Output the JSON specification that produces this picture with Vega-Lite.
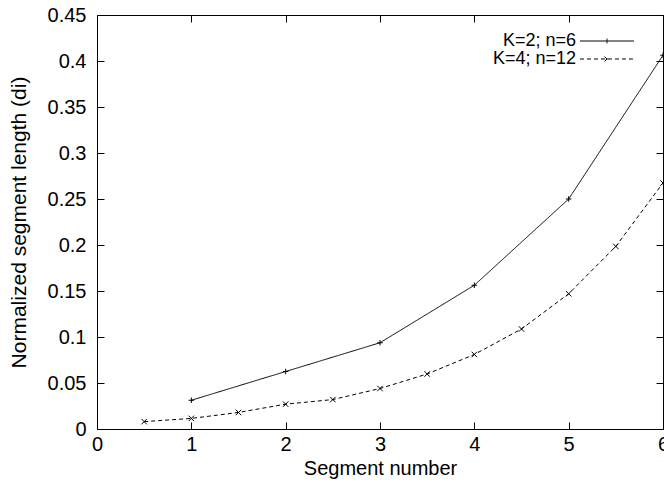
{
  "$schema": "https://vega.github.io/schema/vega-lite/v6.json",
  "autosize": {"type": "none"},
  "width": 566,
  "height": 414,
  "padding": {"left": 97, "top": 15, "right": 1, "bottom": 61},
  "background": "white",
  "config": {
    "view": {"stroke": "black", "strokeWidth": 1},
    "font": "Liberation Sans",
    "axis": {
      "domain": false,
      "grid": false,
      "tickColor": "black",
      "tickSize": -7,
      "tickWidth": 1,
      "labelColor": "black",
      "labelFontSize": 20,
      "labelFont": "Liberation Sans",
      "titleColor": "black",
      "titleFontSize": 20,
      "titleFont": "Liberation Sans",
      "titleFontWeight": "normal"
    }
  },
  "data": {
    "values": [
      {"series": "K=2; n=6", "x": 1, "y": 0.03125},
      {"series": "K=2; n=6", "x": 2, "y": 0.0625},
      {"series": "K=2; n=6", "x": 3, "y": 0.09375},
      {"series": "K=2; n=6", "x": 4, "y": 0.15625},
      {"series": "K=2; n=6", "x": 5, "y": 0.25},
      {"series": "K=2; n=6", "x": 6, "y": 0.40625},
      {"series": "K=4; n=12", "x": 0.5, "y": 0.008},
      {"series": "K=4; n=12", "x": 1, "y": 0.0115},
      {"series": "K=4; n=12", "x": 1.5, "y": 0.018},
      {"series": "K=4; n=12", "x": 2, "y": 0.027},
      {"series": "K=4; n=12", "x": 2.5, "y": 0.032},
      {"series": "K=4; n=12", "x": 3, "y": 0.044},
      {"series": "K=4; n=12", "x": 3.5, "y": 0.0598},
      {"series": "K=4; n=12", "x": 4, "y": 0.081},
      {"series": "K=4; n=12", "x": 4.5, "y": 0.1087},
      {"series": "K=4; n=12", "x": 5, "y": 0.147},
      {"series": "K=4; n=12", "x": 5.5, "y": 0.1985},
      {"series": "K=4; n=12", "x": 6, "y": 0.2674}
    ]
  },
  "layer": [
    {
      "mark": {"type": "line", "color": "black", "strokeWidth": 1},
      "encoding": {
        "x": {
          "field": "x", "type": "quantitative",
          "scale": {"domain": [0, 6], "nice": false, "zero": false},
          "axis": {"orient": "bottom", "values": [0, 1, 2, 3, 4, 5, 6], "format": "d", "title": "Segment number", "labelPadding": 12, "titlePadding": 4, "labelFlush": false}
        },
        "y": {
          "field": "y", "type": "quantitative",
          "scale": {"domain": [0, 0.45], "nice": false},
          "axis": {"orient": "left", "values": [0, 0.05, 0.1, 0.15, 0.2, 0.25, 0.3, 0.35, 0.4, 0.45], "format": ".2~f", "title": "Normalized segment length (di)", "titleFontSize": 21, "labelPadding": 18, "titlePadding": 18}
        },
        "strokeDash": {
          "field": "series", "type": "nominal",
          "scale": {"domain": ["K=2; n=6", "K=4; n=12"], "range": [[1, 0], [4, 3]]},
          "legend": {
            "title": null,
            "orient": "none",
            "legendX": 479,
            "legendY": 17,
            "padding": 0,
            "rowPadding": 0,
            "labelFontSize": 18,
            "labelColor": "black",
            "labelAlign": "right",
            "labelOffset": -40,
            "symbolOffset": 22,
            "symbolSize": 117,
            "symbolStrokeWidth": 1,
            "symbolStrokeColor": "black",
            "encode": {
              "symbols": {
                "update": {
                  "shape": {"signal": "datum.value == 'K=2; n=6' ? 'M-5,0H5M0,-0.45V0.45' : 'M-5,0H5M-0.45,-0.45L0.45,0.45M-0.45,0.45L0.45,-0.45'"}
                }
              }
            }
          }
        }
      }
    },
    {
      "transform": [{"filter": "datum.series == 'K=2; n=6'"}],
      "mark": {"type": "point", "shape": "M-1,0H1M0,-1V1", "filled": false, "color": "black", "strokeWidth": 1, "size": 30, "opacity": 1},
      "encoding": {
        "x": {
          "field": "x", "type": "quantitative",
          "axis": {"orient": "top", "values": [0, 1, 2, 3, 4, 5, 6], "labels": false, "title": null}
        },
        "y": {
          "field": "y", "type": "quantitative",
          "axis": {"orient": "right", "values": [0, 0.05, 0.1, 0.15, 0.2, 0.25, 0.3, 0.35, 0.4, 0.45], "labels": false, "title": null}
        }
      }
    },
    {
      "transform": [{"filter": "datum.series == 'K=4; n=12'"}],
      "mark": {"type": "point", "shape": "M-1,-1L1,1M-1,1L1,-1", "filled": false, "color": "black", "strokeWidth": 1, "size": 30, "opacity": 1},
      "encoding": {
        "x": {"field": "x", "type": "quantitative", "axis": null},
        "y": {"field": "y", "type": "quantitative", "axis": null}
      }
    }
  ],
  "resolve": {"axis": {"x": "independent", "y": "independent"}}
}
